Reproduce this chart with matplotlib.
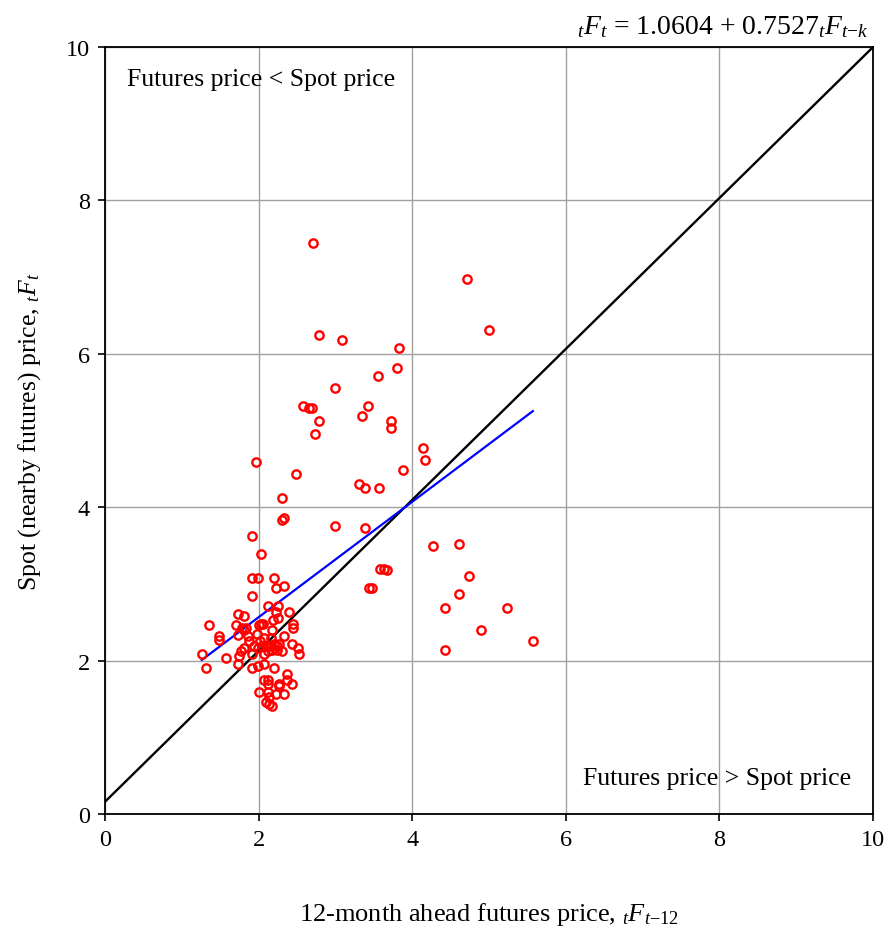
import numpy as np
import matplotlib as mpl
import matplotlib.pyplot as plt

mpl.rcParams['font.family'] = 'Liberation Serif'
mpl.rcParams['mathtext.fontset'] = 'custom'
mpl.rcParams['mathtext.rm'] = 'Liberation Serif'
mpl.rcParams['mathtext.it'] = 'Liberation Serif:italic'

# 12-month ahead futures price (x) and spot price (y)
fut = [2.71, 4.71, 5.00, 2.79, 3.08, 3.83, 3.80, 3.55, 3.00, 2.58, 2.66, 2.69,
       3.42, 3.34, 2.79, 3.72, 3.72, 2.74, 4.14, 4.17, 1.96, 3.88, 2.48, 2.30,
       3.31, 3.39, 3.57, 2.30, 2.33, 3.00, 3.39,
       4.27, 4.61, 3.58, 3.63, 3.67, 4.74, 4.61, 4.43, 5.23, 4.90, 5.57, 4.43,
       3.44, 3.48,
       1.91, 2.03, 1.91, 1.99, 2.20, 2.22, 2.33, 1.91, 2.12, 2.25, 2.40, 2.22,
       2.25, 2.19, 1.73, 1.81, 1.36, 1.70, 2.01, 2.03, 2.06, 2.45, 2.45, 1.78,
       1.81, 1.83, 1.73, 1.49, 1.49, 1.98, 2.17, 1.86, 2.33, 2.07, 2.16, 1.88,
       2.02, 2.43, 1.81, 1.77, 1.75, 1.94, 1.99, 2.04, 2.09, 2.12, 2.16, 2.20,
       2.24, 2.27, 2.12, 2.17, 2.24, 2.30, 2.51, 2.53, 1.57, 1.26, 1.31, 1.73,
       1.91, 2.07, 1.91, 1.99, 2.07, 2.20, 2.37, 2.37, 2.43, 2.27, 2.27, 2.07,
       2.12, 2.12, 2.01, 2.12, 2.22, 2.33, 2.14, 2.09, 2.14, 2.17]
spot = [7.45, 6.98, 6.31, 6.25, 6.18, 6.07, 5.81, 5.71, 5.55, 5.32, 5.29, 5.29,
        5.32, 5.19, 5.13, 5.13, 5.03, 4.95, 4.77, 4.61, 4.59, 4.48, 4.43, 4.12,
        4.30, 4.25, 4.25, 3.83, 3.86, 3.76, 3.73,
        3.50, 3.52, 3.19, 3.19, 3.18, 3.10, 2.87, 2.69, 2.69, 2.40, 2.25, 2.14,
        2.95, 2.95,
        3.63, 3.39, 3.08, 3.08, 3.08, 2.95, 2.97, 2.84, 2.71, 2.71, 2.64, 2.64,
        2.56, 2.53, 2.61, 2.58, 2.46, 2.46, 2.46, 2.48, 2.48, 2.48, 2.43, 2.43,
        2.40, 2.43, 2.33, 2.32, 2.27, 2.35, 2.40, 2.32, 2.32, 2.30, 2.30, 2.25,
        2.25, 2.22, 2.17, 2.12, 2.06, 2.19, 2.17, 2.19, 2.19, 2.19, 2.19, 2.22,
        2.19, 2.22, 2.12, 2.14, 2.14, 2.12, 2.17, 2.09, 2.04, 2.09, 1.91, 1.96,
        2.09, 2.09, 1.91, 1.93, 1.96, 1.91, 1.83, 1.75, 1.70, 1.70, 1.67, 1.75,
        1.75, 1.70, 1.59, 1.59, 1.57, 1.57, 1.52, 1.46, 1.44, 1.41]

# fitted regression  tFt = a + b * tFt-k
a, b = 1.0604, 0.7527

# the 45-degree reference line as drawn
ref_x = [0, 10]
ref_y = [0.16, 10]

fut = np.array(fut)
spot = np.array(spot)

fig = plt.figure(figsize=(8.9, 9.29), dpi=100)
ax = fig.add_axes([0.118, 0.1227, 0.863, 0.8256])

ax.plot(ref_x, ref_y, color='black', lw=1.7, zorder=2)

xs = np.sort(fut)
ax.plot(xs, a + b * xs, color='#0000ff', lw=1.6, zorder=3)

ax.plot(fut, spot, 'o', mfc='none', mec='#ff0000', mew=1.7, ms=6, zorder=4)

ax.set_xlim(0, 10)
ax.set_ylim(0, 10)
ax.set_xticks([0, 2, 4, 6, 8, 10])
ax.set_yticks([0, 2, 4, 6, 8, 10])
ax.grid(True, color='#a0a0a0', lw=1)
ax.set_axisbelow(True)
for s in ax.spines.values():
    s.set_linewidth(1.3)
ax.tick_params(labelsize=17.5, length=5, width=1.2, direction='out', pad=6)

ax.text(0.29, 9.58, 'Futures price < Spot price', fontsize=18.5, va='center', ha='left')
ax.text(9.71, 0.47, 'Futures price > Spot price', fontsize=18.5, va='center', ha='right')

ax.set_xlabel(r'12-month ahead futures price, $_tF_{t\mathrm{-}12}$', fontsize=19, labelpad=36)
ax.set_ylabel(r'Spot (nearby futures) price, $_tF_t$', fontsize=18.5, labelpad=16)

fig.text(0.976, 0.971, r'$_tF_t$ = 1.0604 + 0.7527$_tF_{t\mathit{-}k}$', fontsize=20,
         ha='right', va='center')

fig.savefig('out.png', dpi=100)
